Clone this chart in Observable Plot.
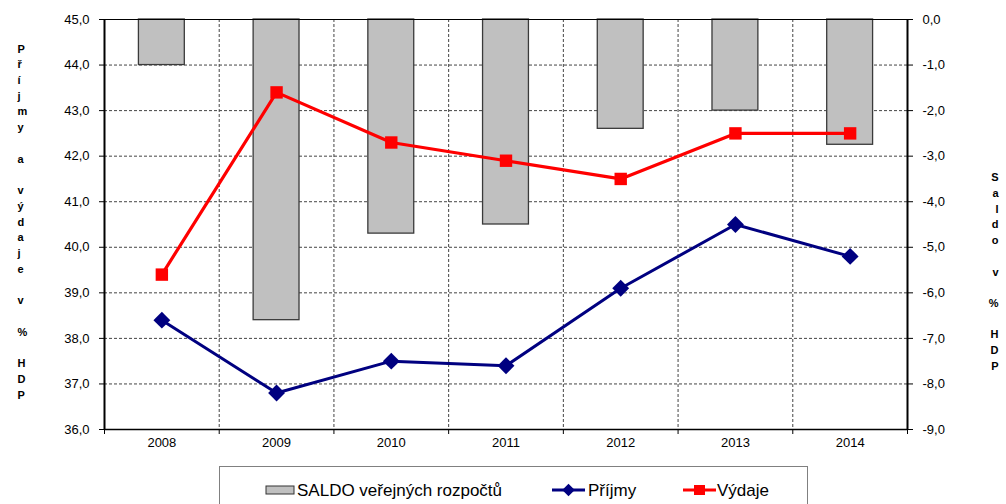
<!DOCTYPE html>
<html><head><meta charset="utf-8">
<script src="https://cdn.jsdelivr.net/npm/d3@7"></script>
<script src="https://cdn.jsdelivr.net/npm/@observablehq/plot@0.6"></script>
<style>
body{margin:0;background:#fff;font-family:"Liberation Sans",Arial,sans-serif;}
#wrap{position:relative;width:1006px;height:504px;overflow:hidden;}
#legend{position:absolute;left:219px;top:466px;width:589px;height:60px;border:1px solid #808080;box-sizing:border-box;}
</style></head>
<body><div id="wrap"><div id="chart"></div><div id="legend"></div></div>
<script>
const years = [2008, 2009, 2010, 2011, 2012, 2013, 2014];
const saldo = [-1.0, -6.6, -4.7, -4.5, -2.4, -2.0, -2.75];
const prijmy = [38.4, 36.8, 37.5, 37.4, 39.1, 40.5, 39.8];
const vydaje = [39.4, 43.4, 42.3, 41.9, 41.5, 42.5, 42.5];
const leftTicks = [36, 37, 38, 39, 40, 41, 42, 43, 44, 45];
const leftTickLabels = ["36,0","37,0","38,0","39,0","40,0","41,0","42,0","43,0","44,0","45,0"];
const rightTickLabels = ["-9,0","-8,0","-7,0","-6,0","-5,0","-4,0","-3,0","-2,0","-1,0","0,0"];
const boundaries = [2007.5, 2008.5, 2009.5, 2010.5, 2011.5, 2012.5, 2013.5, 2014.5];
const leftTitle = "Příjmy a výdaje v % HDP";
const rightTitle = "Saldo v % HDP";
const seriesNames = ["SALDO veřejných rozpočtů", "Příjmy", "Výdaje"];

const rightTop = 45; // right axis 0 aligns with left axis 45
const bars = years.map((y, i) => ({year: y, v: saldo[i]}));
const rev = years.map((y, i) => ({year: y, v: prijmy[i]}));
const exp = years.map((y, i) => ({year: y, v: vydaje[i]}));

const font = "Liberation Sans, Arial, sans-serif";
const chart = Plot.plot({
  width: 1006,
  height: 460,
  marginLeft: 104,
  marginRight: 99,
  marginTop: 19,
  marginBottom: 31,
  style: {fontFamily: font, fontSize: "13px", background: "white", overflow: "visible"},
  x: {type: "linear", domain: [2007.5, 2014.5]},
  y: {domain: [36, 45]},
  marks: [
    Plot.ruleY(leftTicks.slice(1, -1), {stroke: "#444", strokeWidth: 1, strokeDasharray: "3,2"}),
    Plot.ruleX(boundaries.slice(1, -1), {stroke: "#444", strokeWidth: 1, strokeDasharray: "3,2"}),
    Plot.rectY(bars, {x1: d => d.year - 0.2, x2: d => d.year + 0.2, y1: rightTop, y2: d => rightTop + d.v, fill: "#c0c0c0", stroke: "#3a3a3a", strokeWidth: 1.3}),
    Plot.ruleY([45], {stroke: "#000", strokeWidth: 1}),
    Plot.ruleY([36], {stroke: "#000", strokeWidth: 1.5}),
    Plot.ruleX([2007.5], {stroke: "#000", strokeWidth: 2}),
    Plot.ruleX([2014.5], {stroke: "#000", strokeWidth: 2}),
    Plot.line(rev, {x: "year", y: "v", stroke: "#000080", strokeWidth: 3}),
    Plot.dot(rev, {x: "year", y: "v", symbol: "diamond2", r: 7.6, fill: "#000080", stroke: "none"}),
    Plot.line(exp, {x: "year", y: "v", stroke: "#ff0000", strokeWidth: 3.2}),
    Plot.dot(exp, {x: "year", y: "v", symbol: "square", r: 7, fill: "#ff0000", stroke: "none"}),
    Plot.axisY({anchor: "left", ticks: leftTicks, tickFormat: d => leftTickLabels[leftTicks.indexOf(d)], tickSize: 5, tickPadding: 10, label: null, fontSize: 13}),
    Plot.axisY({anchor: "right", ticks: leftTicks, tickFormat: d => rightTickLabels[leftTicks.indexOf(d)], tickSize: 5, tickPadding: 10, label: null, fontSize: 13}),
    Plot.axisX({anchor: "bottom", ticks: boundaries, tickFormat: () => "", tickSize: 5, label: null}),
    Plot.axisX({anchor: "bottom", ticks: years, tickFormat: d => String(d), tickSize: 0, tickPadding: 8, label: null, fontSize: 13}),
    Plot.text([leftTitle], {text: d => d.split("").join("\n"), frameAnchor: "left", dx: -87, dy: -4, fontWeight: "bold", fontSize: 11, lineHeight: 1.43}),
    Plot.text([rightTitle], {text: d => d.split("").join("\n"), frameAnchor: "right", dx: 91, dy: 46, fontWeight: "bold", fontSize: 11, lineHeight: 1.43})
  ]
});
document.getElementById("chart").appendChild(chart);

// legend
const lg = d3.select("#legend").append("svg").attr("width", 589).attr("height", 60)
  .style("font-family", font).style("font-size", "17px");
lg.append("rect").attr("x", 46).attr("y", 19).attr("width", 28).attr("height", 8).attr("fill", "#c0c0c0").attr("stroke", "#333");
lg.append("text").attr("x", 77).attr("y", 23).attr("dy", "0.35em").text(seriesNames[0]);
lg.append("line").attr("x1", 332).attr("x2", 365).attr("y1", 23).attr("y2", 23).attr("stroke", "#000080").attr("stroke-width", 3);
lg.append("path").attr("d", d3.symbol(d3.symbolDiamond2, 100)()).attr("transform", "translate(348.5,23)").attr("fill", "#000080");
lg.append("text").attr("x", 368).attr("y", 23).attr("dy", "0.35em").text(seriesNames[1]);
lg.append("line").attr("x1", 463).attr("x2", 496).attr("y1", 23).attr("y2", 23).attr("stroke", "#ff0000").attr("stroke-width", 3);
lg.append("rect").attr("x", 474).attr("y", 18).attr("width", 11).attr("height", 10).attr("fill", "#ff0000");
lg.append("text").attr("x", 497).attr("y", 23).attr("dy", "0.35em").text(seriesNames[2]);
</script>
</body></html>
